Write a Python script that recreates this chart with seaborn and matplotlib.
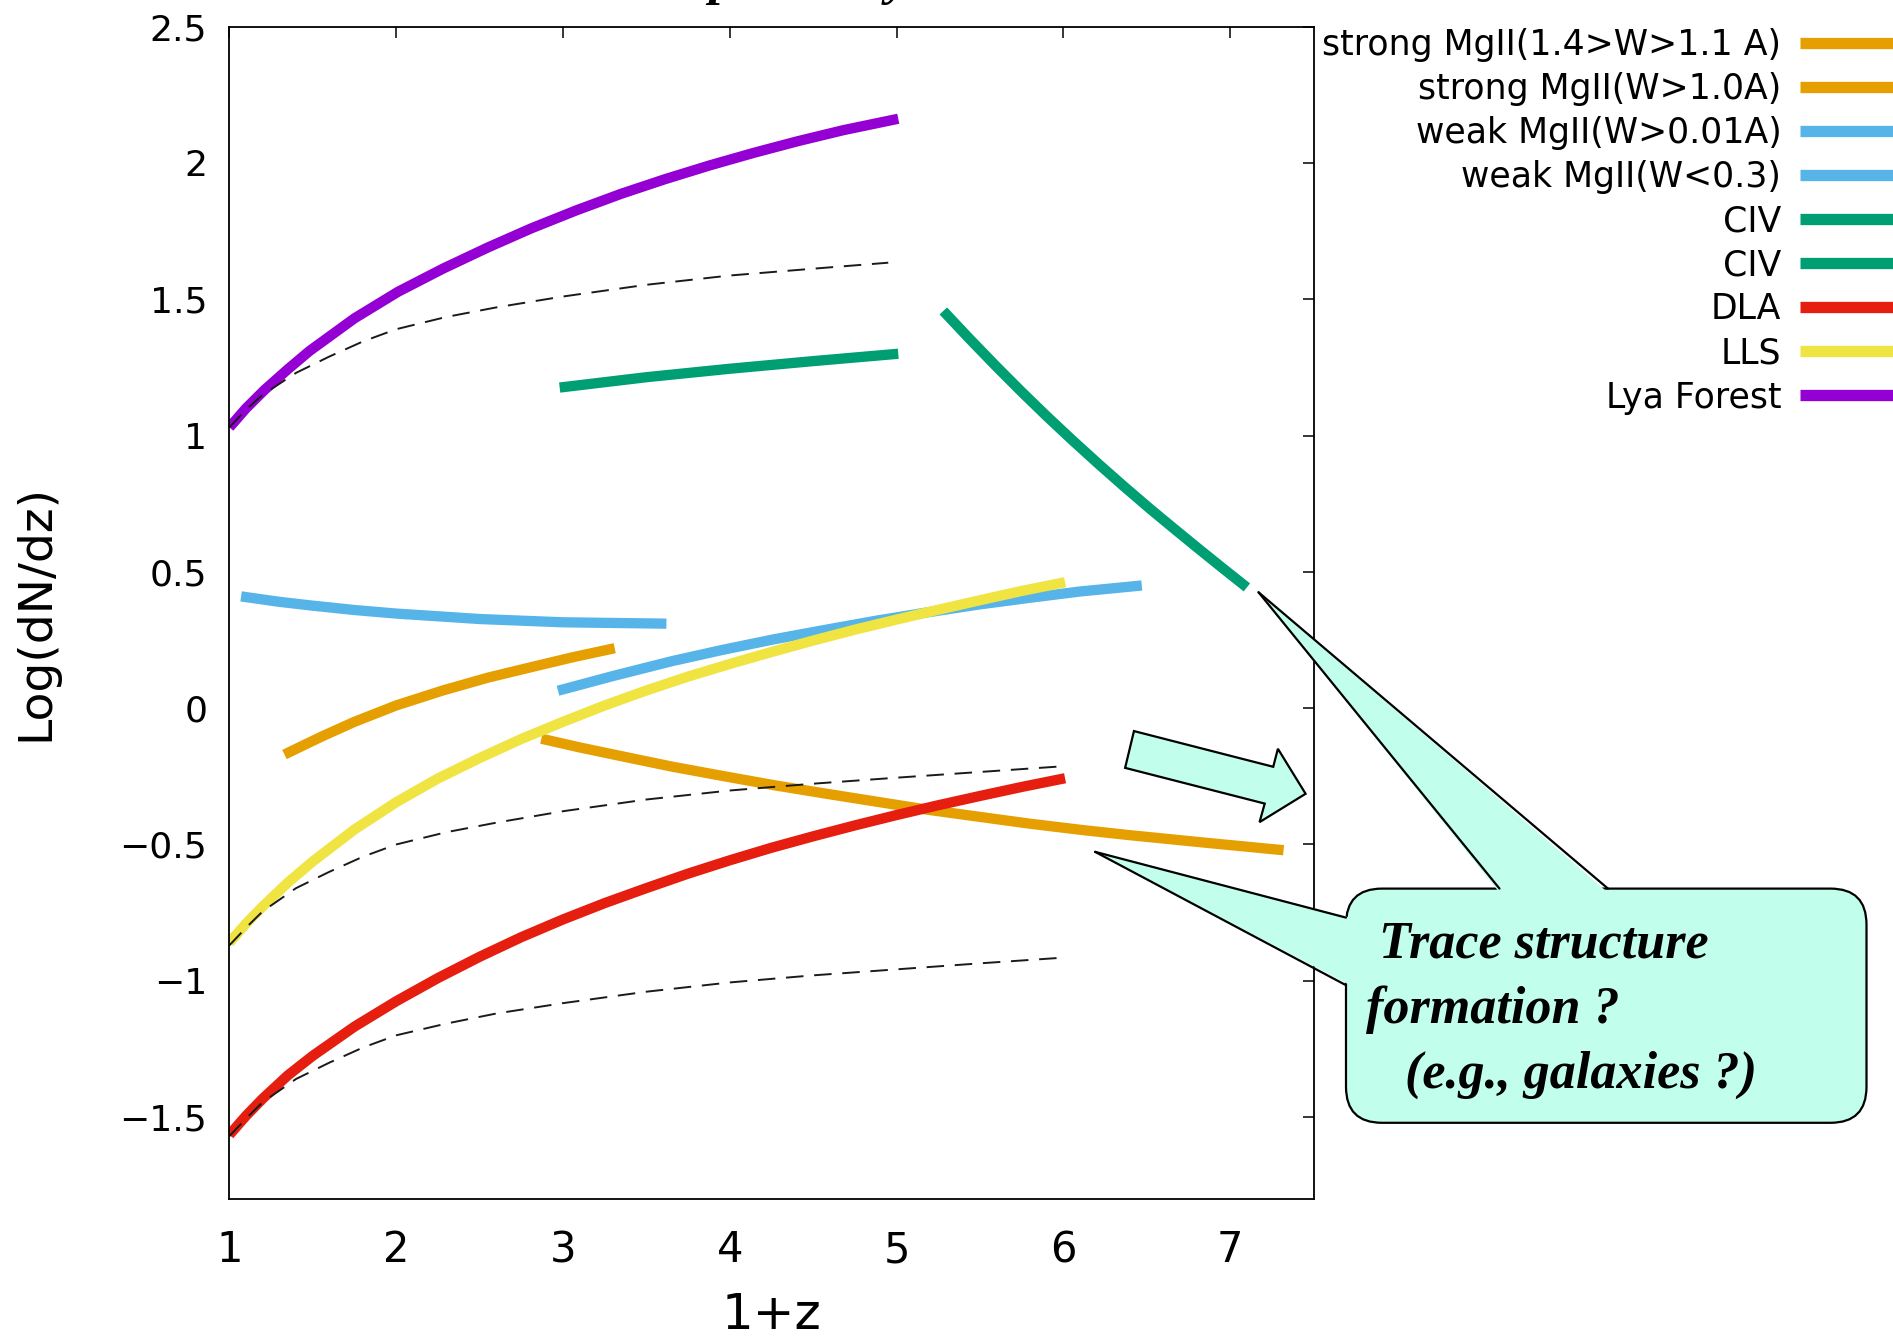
import matplotlib
matplotlib.use("Agg")
import numpy as np
import pandas as pd
import matplotlib.pyplot as plt
import seaborn as sns
from matplotlib import font_manager
from matplotlib.patches import FancyBboxPatch, Polygon
from matplotlib.lines import Line2D
from matplotlib.transforms import IdentityTransform

# ---------------- data ----------------
series_labels = ["strong MgII(1.4>W>1.1 A)", "strong MgII(W>1.0A)",
                 "weak MgII(W>0.01A)", "weak MgII(W<0.3)",
                 "CIV", "CIV", "DLA", "LLS", "Lya Forest"]
series_colors = ["#E69F00", "#E69F00", "#56B4E9", "#56B4E9",
                 "#009E73", "#009E73", "#E51E10", "#F0E442", "#9400D3"]

mg_strong1_x = [1.33, 1.55, 1.75, 2.0, 2.28, 2.55, 2.82, 3.06, 3.31]
mg_strong1_y = [-0.17, -0.105, -0.05, 0.01, 0.065, 0.112, 0.152, 0.187, 0.22]

mg_strong2_x = [2.87, 3.1, 3.35, 3.65, 3.96, 4.27, 4.57, 4.88, 5.18, 5.49, 5.79,
                6.1, 6.40, 6.86, 7.32]
mg_strong2_y = [-0.112, -0.144, -0.176, -0.214, -0.249, -0.283, -0.313, -0.343,
                -0.372, -0.398, -0.423, -0.446, -0.466, -0.494, -0.521]

mg_weak1_x = [2.97, 3.3, 3.65, 3.95, 4.26, 4.57, 4.87, 5.18, 5.49, 5.8, 6.10, 6.47]
mg_weak1_y = [0.064, 0.118, 0.172, 0.213, 0.252, 0.287, 0.320, 0.351, 0.380,
              0.405, 0.428, 0.450]

mg_weak2_x = [1.07, 1.3, 1.5, 1.75, 2.0, 2.5, 3.0, 3.62]
mg_weak2_y = [0.410, 0.390, 0.376, 0.360, 0.347, 0.327, 0.315, 0.310]

civ1_x = [2.98, 3.5, 4.0, 4.5, 5.01]
civ1_y = [1.176, 1.214, 1.245, 1.273, 1.300]

civ2_x = [5.28, 5.44, 5.60, 5.75, 5.90, 6.05, 6.21, 6.36, 6.52, 6.67, 6.82, 6.96, 7.10]
civ2_y = [1.457, 1.353, 1.252, 1.160, 1.071, 0.985, 0.896, 0.815, 0.731, 0.655,
          0.580, 0.511, 0.443]

dla_x = [1.0, 1.1, 1.2, 1.35, 1.5, 1.75, 2.0, 2.25, 2.5, 2.75, 3.0, 3.25, 3.5,
         3.75, 4.0, 4.25, 4.5, 4.75, 5.0, 5.25, 5.5, 5.75, 6.01]
dla_y = [-1.565, -1.495, -1.432, -1.347, -1.275, -1.168, -1.075, -0.99, -0.912,
         -0.84, -0.775, -0.715, -0.66, -0.607, -0.558, -0.512, -0.47, -0.43,
         -0.392, -0.356, -0.322, -0.289, -0.257]

lls_x = [1.0, 1.1, 1.2, 1.35, 1.5, 1.75, 2.0, 2.25, 2.5, 2.75, 3.0, 3.25, 3.5,
         3.75, 4.0, 4.25, 4.5, 4.75, 5.0, 5.25, 5.5, 5.75, 6.01]
lls_y = [-0.86, -0.79, -0.727, -0.64, -0.562, -0.445, -0.345, -0.258, -0.183,
         -0.113, -0.05, 0.01, 0.065, 0.116, 0.162, 0.206, 0.248, 0.288, 0.325,
         0.361, 0.396, 0.43, 0.462]

lya_x = [1.0, 1.1, 1.21, 1.35, 1.48, 1.75, 2.01, 2.28, 2.55, 2.81, 3.08, 3.35,
         3.61, 3.88, 4.15, 4.41, 4.68, 5.01]
lya_y = [1.03, 1.10, 1.167, 1.243, 1.31, 1.43, 1.527, 1.612, 1.69, 1.760,
         1.826, 1.887, 1.940, 1.991, 2.038, 2.080, 2.120, 2.162]

# no-evolution reference curves (thin dashed)
ref_top_x = [1.0, 1.1, 1.2, 1.4, 1.6, 1.8, 2.0, 2.3, 2.6, 3.0, 3.5, 4.0, 4.5, 4.95]
ref_top_y = [1.03, 1.095, 1.15, 1.23, 1.29, 1.345, 1.39, 1.435, 1.47, 1.51, 1.553,
             1.587, 1.612, 1.634]
ref_mid_x = [1.0, 1.1, 1.2, 1.4, 1.6, 1.8, 2.0, 2.3, 2.6, 3.0, 3.5, 4.0, 4.5, 5.0, 5.5, 6.0]
ref_mid_y = [-0.87, -0.805, -0.745, -0.66, -0.60, -0.545, -0.50, -0.455, -0.42, -0.378,
             -0.335, -0.302, -0.277, -0.255, -0.234, -0.213]
ref_low_x = [1.0, 1.1, 1.2, 1.4, 1.6, 1.8, 2.0, 2.3, 2.6, 3.0, 3.5, 4.0, 4.5, 5.0, 5.5, 6.0]
ref_low_y = [-1.57, -1.505, -1.445, -1.36, -1.30, -1.245, -1.20, -1.157, -1.12, -1.082,
             -1.04, -1.006, -0.98, -0.958, -0.936, -0.915]

xtick_vals = [1, 2, 3, 4, 5, 6, 7]
xtick_labels = ["1", "2", "3", "4", "5", "6", "7"]
ytick_vals = [-1.5, -1.0, -0.5, 0.0, 0.5, 1.0, 1.5, 2.0, 2.5]
ytick_labels = ["\u22121.5", "\u22121", "\u22120.5", "0", "0.5", "1", "1.5", "2", "2.5"]

callout_lines = ["Trace structure", "formation ?", "  (e.g., galaxies ?)"]

# ---------------- figure ----------------
sns.set_theme(style="white")
plt.rcParams["font.family"] = ["DejaVu Sans"]
for k in ["text.color", "axes.labelcolor", "xtick.color", "ytick.color"]:
    plt.rcParams[k] = "black"
names = {f.name for f in font_manager.fontManager.ttflist}
narrow = "Liberation Sans Narrow" if "Liberation Sans Narrow" in names else "DejaVu Sans"
serif = "Liberation Serif" if "Liberation Serif" in names else "DejaVu Serif"

W, H = 1893, 1336
fig = plt.figure(figsize=(W / 100, H / 100), dpi=100)
fig.patch.set_facecolor("white")
ax = fig.add_axes([229.4 / W, 1 - 1198.9 / H, (1313.6 - 229.4) / W, (1198.9 - 26.6) / H])
ax.set_facecolor("white")

LW = 7.4
all_x = [mg_strong1_x, mg_strong2_x, mg_weak1_x, mg_weak2_x, civ1_x, civ2_x, dla_x, lls_x, lya_x]
all_y = [mg_strong1_y, mg_strong2_y, mg_weak1_y, mg_weak2_y, civ1_y, civ2_y, dla_y, lls_y, lya_y]
for xs, ys, c in zip(all_x, all_y, series_colors):
    sns.lineplot(x=xs, y=ys, ax=ax, color=c, linewidth=LW, sort=False,
                 estimator=None, solid_capstyle="butt", solid_joinstyle="round")

for xs, ys in [(ref_top_x, ref_top_y), (ref_mid_x, ref_mid_y), (ref_low_x, ref_low_y)]:
    sns.lineplot(x=xs, y=ys, ax=ax, color="#1a1a1a", linewidth=1.4, sort=False,
                 estimator=None, dashes=False, linestyle=(0, (9, 5.5)))

ax.set_xlim(1, 7.5)
ax.set_ylim(-1.8, 2.5)
ax.set_xticks(xtick_vals)
ax.set_xticklabels(xtick_labels, fontsize=30, family=narrow)
ax.set_yticks(ytick_vals)
ax.set_yticklabels(ytick_labels, fontsize=26)
ax.tick_params(axis="both", direction="in", length=8, width=1.1, top=True,
               right=True, labeltop=False, labelright=False, colors="black")
ax.tick_params(axis="x", pad=22)
ax.tick_params(axis="y", pad=16)
for s in ax.spines.values():
    s.set_visible(True)
    s.set_color("black")
    s.set_linewidth(1.3)
ax.set_xlabel("1+z", fontsize=36, family=narrow, labelpad=14, color="black")
ax.set_ylabel("Log(dN/dz)", fontsize=34, labelpad=44, color="black")

# legend
handles = [Line2D([], [], color=c, lw=LW * 1.1, solid_capstyle="butt") for c in series_colors]
leg = ax.legend(handles, series_labels, loc="upper right",
                bbox_to_anchor=(1922 / W, 1 - 28 / H), bbox_transform=fig.transFigure,
                frameon=False, markerfirst=False, fontsize=25, handlelength=3.5,
                handletextpad=0.55, labelspacing=0.29, borderpad=0, borderaxespad=0)
for t in leg.get_texts():
    t.set_color("black")

# cut-off slide title
fig.text(661 / W, 1 + 6 / H, "dependency", fontsize=37, fontweight="bold",
         fontstyle="italic", family=serif, va="baseline", ha="left", color="black")

# ---------------- callout ----------------
fill = "#C1FFEC"
def px(xy):
    return ax.transData.transform(xy)

bx0, bx1 = 1346, 1866.5
by0, by1 = H - 1122.8, H - 888.6
box = FancyBboxPatch((bx0, by0), bx1 - bx0, by1 - by0,
                     boxstyle="round,pad=0,rounding_size=36",
                     transform=IdentityTransform(), facecolor=fill,
                     edgecolor="black", lw=1.6, zorder=20, clip_on=False)
fig.patches.append(box)

tip1 = px((7.17, 0.425))
base1 = [(1499.5, by1), (1608.0, by1)]
tip2 = px((6.19, -0.527))
base2 = [(bx0, H - 917.6), (bx0, H - 985.2)]
for tip, base, inward in [(tip1, base1, (0, -4)), (tip2, base2, (4, 0))]:
    poly = [tuple(tip), (base[0][0] + inward[0], base[0][1] + inward[1]),
            (base[1][0] + inward[0], base[1][1] + inward[1])]
    fig.patches.append(Polygon(poly, closed=True, facecolor=fill, edgecolor="none",
                               transform=IdentityTransform(), zorder=21, clip_on=False))
    for b in base:
        fig.lines.append(Line2D([tip[0], b[0]], [tip[1], b[1]], color="black", lw=1.6,
                                transform=IdentityTransform(), zorder=22))

text_pos = [(1379, 958), (1366, 1023), (1379, 1088)]
for (tx, ty), line in zip(text_pos, callout_lines):
    fig.text(tx / W, 1 - ty / H, line, fontsize=37.5, fontweight="bold",
             fontstyle="italic", family=serif, va="baseline", ha="left",
             zorder=30, color="black")

# block arrow
arrow_pts = [(6.423, -0.084), (6.370, -0.219), (7.207, -0.350), (7.176, -0.418),
             (7.452, -0.314), (7.286, -0.149), (7.258, -0.215)]
arrow_order = [0, 6, 5, 4, 3, 2, 1]
arrow_px = [tuple(px(arrow_pts[i])) for i in arrow_order]
fig.patches.append(Polygon(arrow_px, closed=True, facecolor=fill, edgecolor="black",
                           lw=1.6, transform=IdentityTransform(), zorder=20, clip_on=False))

fig.savefig("out.png", dpi=100, facecolor="white")
